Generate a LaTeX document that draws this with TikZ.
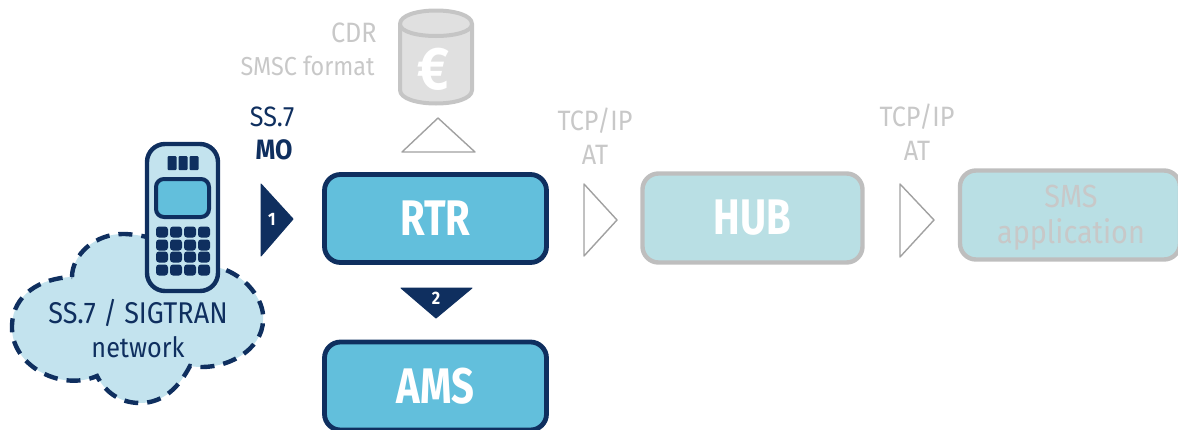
\documentclass[tikz,border=0pt]{standalone}
\usepackage{fontspec}
\setmainfont[FakeStretch=.9]{Fira Sans}
\newfontfamily\boxfont[FakeStretch=.8]{Fira Sans}
\usepackage{xcolor}
\usetikzlibrary{scopes}

\definecolor{navy}{HTML}{0F2F5F}
\definecolor{skyfill}{HTML}{62BFDC}
\definecolor{paleblue}{HTML}{C3E3EE}
\definecolor{palehub}{HTML}{B9DFE4}
\definecolor{fadeline}{HTML}{BEBEBE}
\definecolor{fadetext}{HTML}{C8C8C8}

\tikzset{
  activebox/.style={draw=navy,fill=skyfill,line width=2.4pt,rounded corners=8pt,minimum width=111pt,minimum height=44pt,inner sep=0pt,text=white,font=\fontsize{25}{25}\boxfont\bfseries},
  fadebox/.style={draw=fadeline,fill=palehub,line width=2.2pt,rounded corners=8pt,minimum width=110pt,minimum height=44.5pt,inner sep=0pt},
  navytext/.style={text=navy,inner sep=0pt,font=\fontsize{14}{14}\selectfont},
  fadelabel/.style={text=fadetext,inner sep=0pt,font=\fontsize{14}{14}\selectfont},
  darkmark/.style={fill=navy,draw=navy,line width=.5pt,line join=round},
  openmark/.style={fill=white,draw=fadeline!85!black,line width=.7pt,line join=round},
  markno/.style={text=white,inner sep=0pt,font=\fontsize{9}{9}\selectfont\bfseries},
  drum/.style={fill=black!12,draw=fadeline!90!white,line width=2pt},
}

\begin{document}
\begin{tikzpicture}[x=.5pt,y=-.5pt]

    \useasboundingbox (0,0) rectangle (1178,429);

    \def\keypad{
      \foreach \py in {232,245,257,270}
        \foreach \px in {162,176,190,204}
          \fill[navy,rounded corners=1.5pt] (\px-6,\py-5.5) rectangle (\px+6,\py+5.5);
    }

    \def\speaker{
      \foreach \px in {172,183,194}
        \fill[navy,rounded corners=.5pt] (\px-4.5,156) rectangle (\px+4.5,170);
    }

    % cloud
    \draw[fill=paleblue,draw=navy,line width=2.2pt,dash pattern=on 7pt off 4.5pt]
      (72,277) .. controls (72,255) and (95,233) .. (125,234)
      .. controls (165,236) and (190,255) .. (220,268)
      .. controls (245,275) and (265,300) .. (263,320)
      .. controls (263,350) and (225,372) .. (190,366)
      .. controls (180,385) and (165,403) .. (140,403)
      .. controls (120,403) and (105,392) .. (97,376)
      .. controls (60,392) and (10,365) .. (12,325)
      .. controls (13,295) and (40,278) .. (72,277) -- cycle;

    % phone
    \draw[fill=paleblue,draw=navy,line width=2.2pt,rounded corners=9pt] (147,144) rectangle (218,291);
    \draw[fill=skyfill,draw=navy,line width=2pt,rounded corners=4pt] (156,179) rectangle (209,217);
    \speaker
    \keypad

    % cylinder
    \draw[drum] (400,24) -- (400,90) .. controls (400,108) and (472,108) .. (472,90) -- (472,24) .. controls (472,6) and (400,6) .. (400,24) -- cycle;
    \draw[drum] (400,24) .. controls (400,40) and (472,40) .. (472,24);
    \node[text=white,inner sep=0pt,font=\fontsize{30}{30}\selectfont\bfseries] (euro) at (433,69) {€};

    \node[activebox] (rtr) at (435.5,218.5) {RTR};
    \node[activebox] (ams) at (435.5,386) {AMS};
    \node[fadebox,text=white,font=\fontsize{25}{25}\boxfont\bfseries] (hub) at (752.5,218) {HUB};
    \node[fadebox] (sms) at (1070,215) {};
    \node[text=fadetext,inner sep=0pt,align=center,font=\fontsize{16}{18}\selectfont] (smstext) at (1071,218) {SMS\\application};

    % marks
    \draw[darkmark] (261,184) -- (293,219) -- (261,256) -- cycle;
    \draw[darkmark] (401,288) -- (472,288) -- (436,318) -- cycle;
    \draw[openmark] (402,152) -- (438,118) -- (475,152) -- cycle;
    \draw[openmark] (584,184) -- (617,220) -- (584,256) -- cycle;
    \draw[openmark] (900,184) -- (934,220) -- (900,257) -- cycle;
    \node[markno] (one) at (272,219) {1};
    \node[markno] (two) at (436,298) {2};

    % labels
    \node[navytext] (ssseven) at (272,117) {SS.7};
    \node[navytext,font=\fontsize{14}{14}\selectfont\bfseries] (mo) at (274,150) {MO};
    \node[navytext,font=\fontsize{15}{15}\selectfont] (sigtran) at (138,313) {SS.7 / SIGTRAN};
    \node[navytext] (network) at (138,347) {network};
    \node[fadelabel,anchor=east] (cdr) at (377,33) {CDR};
    \node[fadelabel,anchor=east,font=\fontsize{13}{13}\selectfont] (smsc) at (375,66) {SMSC format};
    \node[fadelabel] (tcpa) at (595,121) {TCP/IP};
    \node[fadelabel] (ata) at (595,155) {AT};
    \node[fadelabel] (tcpb) at (917,117) {TCP/IP};
    \node[fadelabel] (atb) at (917,151) {AT};

\end{tikzpicture}
\end{document}
